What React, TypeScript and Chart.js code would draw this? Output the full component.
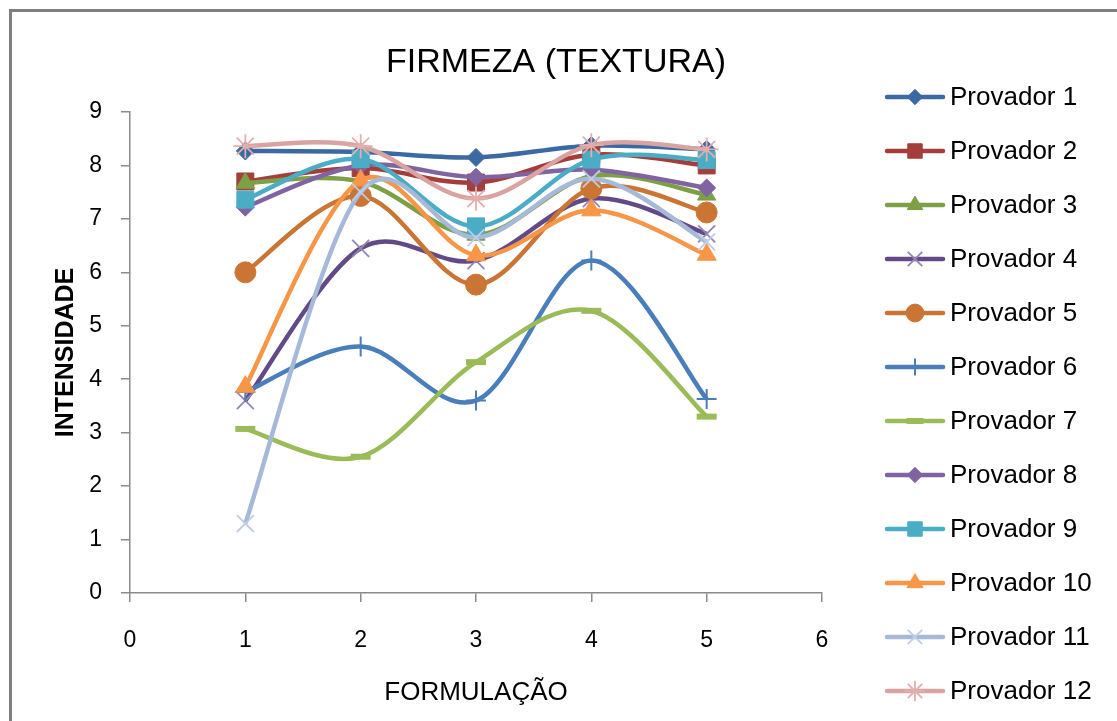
import React, { useEffect, useRef } from 'react';
import { Chart, registerables } from 'chart.js';
import { drawPoint } from 'chart.js/helpers';

Chart.register(...registerables);

const TITLE = 'FIRMEZA (TEXTURA)';
const X_TITLE = 'FORMULAÇÃO';
const Y_TITLE = 'INTENSIDADE';

const X_VALUES = [1, 2, 3, 4, 5];
const SERIES_LABELS = [
  'Provador 1', 'Provador 2', 'Provador 3', 'Provador 4', 'Provador 5', 'Provador 6',
  'Provador 7', 'Provador 8', 'Provador 9', 'Provador 10', 'Provador 11', 'Provador 12',
];

const P1 = [8.27, 8.25, 8.15, 8.37, 8.3];
const P2 = [7.7, 7.95, 7.68, 8.2, 8.0];
const P3 = [7.67, 7.7, 6.7, 7.8, 7.45];
const P4 = [3.6, 6.45, 6.22, 7.38, 6.72];
const P5 = [6.0, 7.43, 5.77, 7.57, 7.12];
const P6 = [3.76, 4.61, 3.6, 6.22, 3.63];
const P7 = [3.07, 2.55, 4.32, 5.28, 3.3];
const P8 = [7.22, 8.0, 7.78, 7.92, 7.58];
const P9 = [7.36, 8.12, 6.86, 8.11, 8.1];
const P10 = [3.86, 7.72, 6.32, 7.16, 6.33];
const P11 = [1.3, 7.5, 6.65, 7.75, 6.57];
const P12 = [8.36, 8.36, 7.38, 8.38, 8.3];
const SERIES_VALUES = [P1, P2, P3, P4, P5, P6, P7, P8, P9, P10, P11, P12];

const LINE_COLORS = [
  '#3B69A3', '#A43E3B', '#7D9F45', '#624A86', '#CB7534', '#4A7EBB',
  '#9BBB59', '#8064A2', '#4BACC6', '#F79646', '#A7B9D9', '#D9A3A2',
];
const MARKER_COLORS = [
  '#3B69A3', '#A43E3B', '#7D9F45', '#9585B6', '#CB7534', '#4A7EBB',
  '#9BBB59', '#8064A2', '#4BACC6', '#F79646', '#BFCDE5', '#E3AEAD',
];
const MARKER_STYLES = [
  'rectRot', 'rect', 'triangle', 'crossRot', 'circle', 'cross',
  'line', 'rectRot', 'rect', 'triangle', 'crossRot', 'star',
];
const MARKER_RADII = [9, 12, 10.5, 12, 10.5, 10, 10, 9, 12, 11, 12, 12];
const MARKER_BORDERS = [1, 1, 1, 1.8, 1, 2, 6, 1, 1, 1, 1.8, 1.8];

const FONT = '"Liberation Sans", Arial, sans-serif';
const SMOOTH = 1 / 6;

// Excel-like smoothing: uniform Catmull-Rom control points in pixel space
const smoothPlugin = {
  id: 'excelSmooth',
  afterDatasetsUpdate(chart: any) {
    chart.getSortedVisibleDatasetMetas().forEach((meta: any) => {
      const pts = meta.data;
      const n = pts.length;
      for (let i = 0; i < n; i++) {
        const p = pts[i];
        const prev = pts[Math.max(0, i - 1)];
        const next = pts[Math.min(n - 1, i + 1)];
        const dx = (next.x - prev.x) * SMOOTH;
        const dy = (next.y - prev.y) * SMOOTH;
        p.cp1x = p.x - dx;
        p.cp1y = p.y - dy;
        p.cp2x = p.x + dx;
        p.cp2y = p.y + dy;
      }
      if (meta.dataset) meta.dataset._pointsUpdated = true;
    });
  },
};

const textPlugin = {
  id: 'textAndLegend',
  afterDraw(chart: any) {
    const ctx = chart.ctx as CanvasRenderingContext2D;
    const area = chart.chartArea;
    ctx.save();
    ctx.fillStyle = '#000';
    ctx.font = `34px ${FONT}`;
    ctx.textAlign = 'center';
    ctx.textBaseline = 'alphabetic';
    ctx.fillText(TITLE, 556, 72);
    ctx.font = `26px ${FONT}`;
    ctx.fillText(X_TITLE, (area.left + area.right) / 2, 700);
    ctx.save();
    ctx.translate(73, (area.top + area.bottom) / 2);
    ctx.rotate(-Math.PI / 2);
    ctx.font = `bold 25px ${FONT}`;
    ctx.fillText(Y_TITLE, 0, 0);
    ctx.restore();
    chart.data.datasets.forEach((ds: any, i: number) => {
      const y = 97 + i * 54;
      ctx.strokeStyle = LINE_COLORS[i];
      ctx.lineWidth = 4.5;
      ctx.lineCap = 'round';
      ctx.beginPath();
      ctx.moveTo(887, y);
      ctx.lineTo(943, y);
      ctx.stroke();
      ctx.fillStyle = MARKER_COLORS[i];
      ctx.strokeStyle = MARKER_COLORS[i];
      ctx.lineCap = 'butt';
      ctx.lineWidth = MARKER_BORDERS[i];
      drawPoint(ctx, {
        pointStyle: MARKER_STYLES[i],
        radius: MARKER_RADII[i] * 0.85,
        rotation: 0,
        borderWidth: MARKER_BORDERS[i],
      } as any, 915, y);
      ctx.fillStyle = '#000';
      ctx.font = `26px ${FONT}`;
      ctx.textAlign = 'left';
      ctx.textBaseline = 'middle';
      ctx.fillText(ds.label, 950, y + 1);
    });
    ctx.restore();
  },
};

export default function App() {
  const ref = useRef<HTMLCanvasElement>(null);
  useEffect(() => {
    if (!ref.current) return;
    const datasets = SERIES_VALUES.map((vals, i) => ({
      label: SERIES_LABELS[i],
      data: vals.map((v, j) => ({ x: X_VALUES[j], y: v })),
      borderColor: LINE_COLORS[i],
      backgroundColor: MARKER_COLORS[i],
      borderWidth: 4.5,
      borderJoinStyle: 'round' as const,
      tension: 0.4,
      fill: false,
      pointStyle: MARKER_STYLES[i] as any,
      pointRadius: MARKER_RADII[i],
      pointBackgroundColor: MARKER_COLORS[i],
      pointBorderColor: MARKER_COLORS[i],
      pointBorderWidth: MARKER_BORDERS[i],
      order: 12 - i,
      clip: false as any,
    }));
    const axisColor = '#8a8a8a';
    const chart = new Chart(ref.current, {
      type: 'line',
      data: { datasets },
      options: {
        animation: false,
        responsive: false,
        devicePixelRatio: 1,
        layout: { padding: { left: 0, top: 112, right: 295, bottom: 0 }, autoPadding: false },
        plugins: {
          legend: { display: false },
          title: { display: false },
          tooltip: { enabled: false },
        },
        scales: {
          x: {
            type: 'linear',
            min: 0,
            max: 6,
            ticks: { stepSize: 1, color: '#000', font: { family: FONT, size: 23 }, padding: 25 },
            grid: { drawOnChartArea: false, drawTicks: true, tickLength: 9, color: axisColor, lineWidth: 1.5 },
            border: { display: true, color: axisColor, width: 1.5 },
            afterFit: (s: any) => { s.height = 128; },
          },
          y: {
            type: 'linear',
            min: 0,
            max: 9,
            ticks: { stepSize: 1, color: '#000', font: { family: FONT, size: 23 }, padding: 19 },
            grid: { drawOnChartArea: false, drawTicks: true, tickLength: 9, color: axisColor, lineWidth: 1.5 },
            border: { display: true, color: axisColor, width: 1.5 },
            afterFit: (s: any) => { s.width = 130; },
          },
        },
      },
      plugins: [smoothPlugin, textPlugin],
    });
    return () => chart.destroy();
  }, []);

  return (
    <div style={{ position: 'fixed', left: 0, top: 0, width: 1117, height: 721, overflow: 'hidden', background: '#fff' }}>
      <div style={{ position: 'absolute', left: 9, top: 9, right: 0, bottom: 0, borderLeft: '3px solid #7f7f7f', borderTop: '3px solid #7f7f7f' }} />
      <canvas ref={ref} width={1117} height={721} style={{ position: 'absolute', left: 0, top: 0, width: 1117, height: 721, display: 'block' }} />
    </div>
  );
}
